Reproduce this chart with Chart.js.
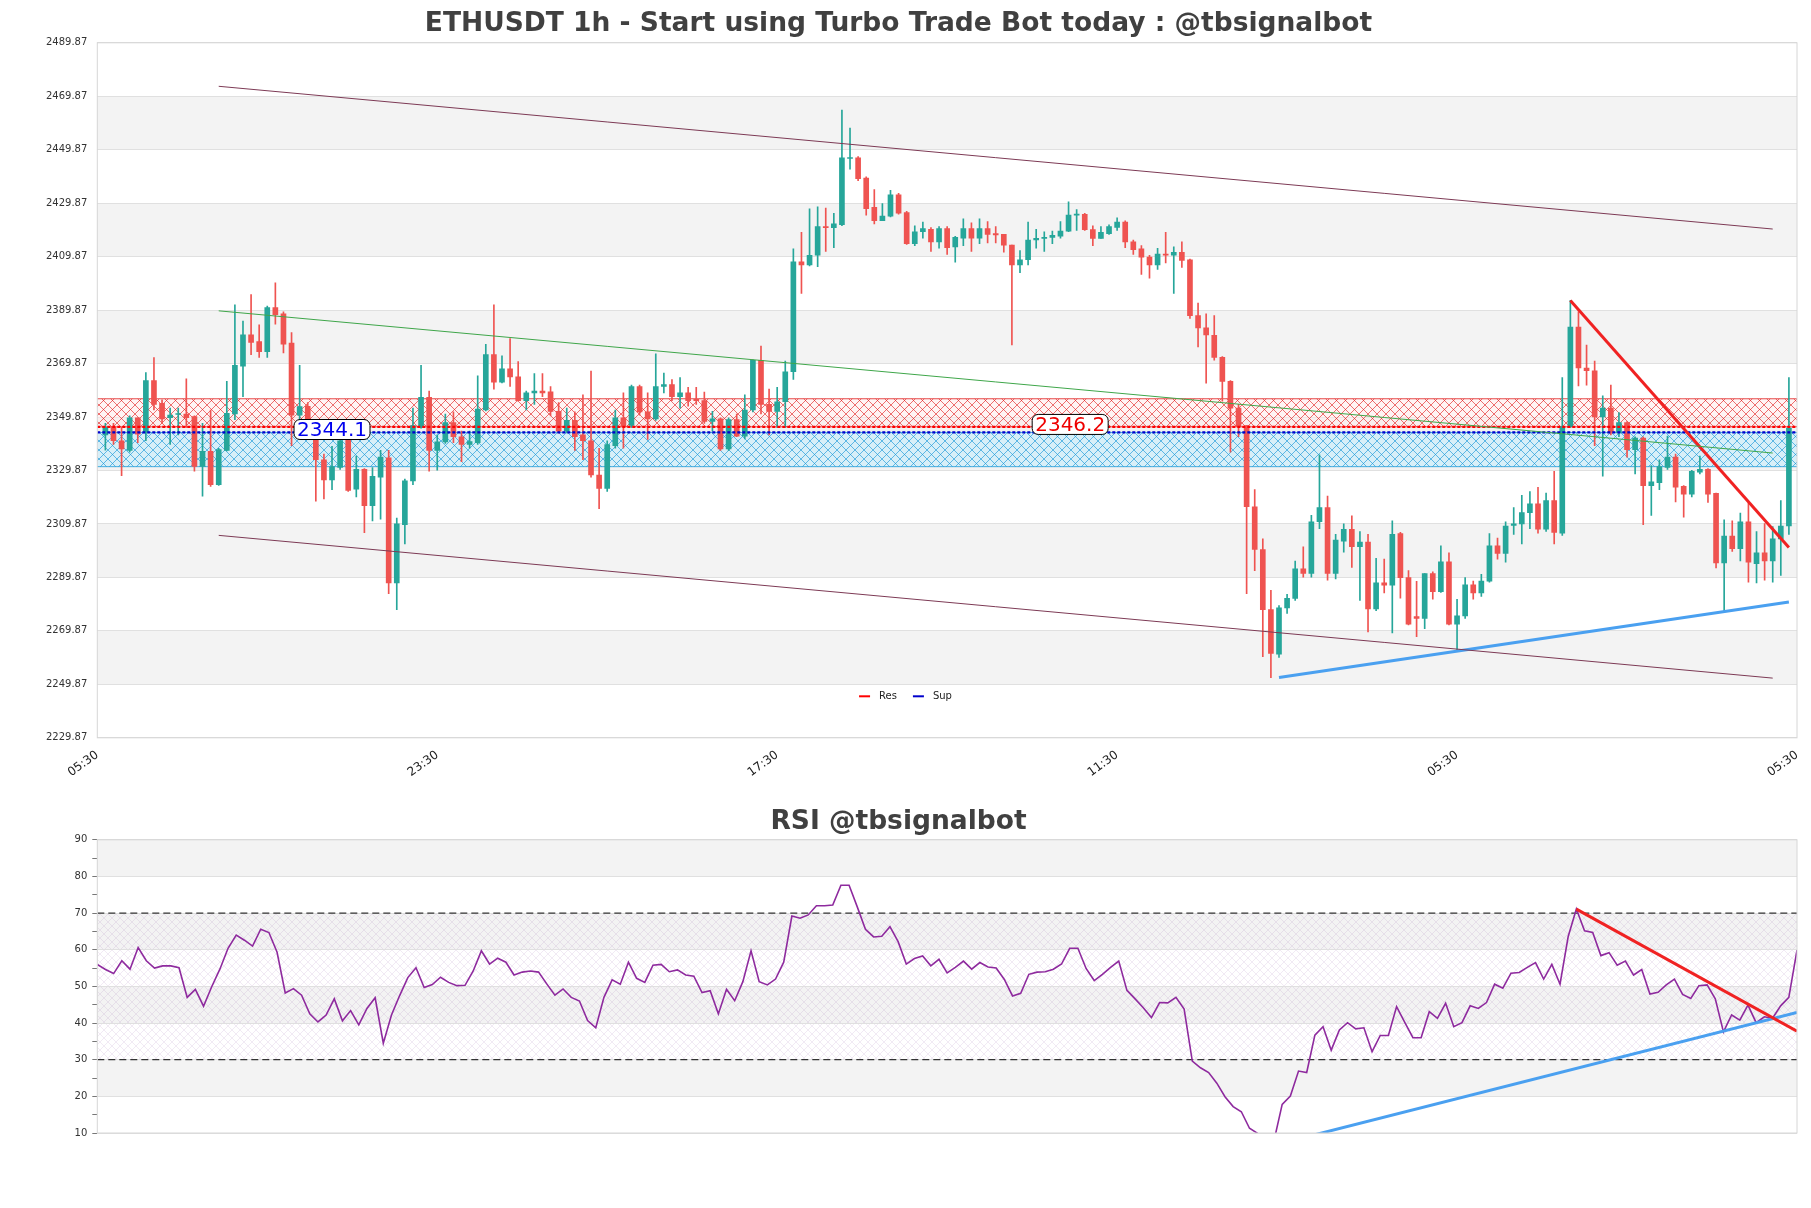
<!DOCTYPE html>
<html>
<head>
<meta charset="utf-8">
<script src="https://cdn.jsdelivr.net/npm/chart.js"></script>
<style>
  html, body { margin: 0; padding: 0; background: #fff; }
  #wrap { position: relative; width: 1811px; height: 1208px; }
  #mainChart { position: absolute; left: 0; top: 0; }
  #rsiChart { position: absolute; left: 0; top: 790px; }
</style>
</head>
<body>
<div id="wrap">
  <canvas id="mainChart" width="1811" height="800"></canvas>
  <canvas id="rsiChart" width="1811" height="418"></canvas>
</div>
<script>
// ETHUSDT 1h candles + RSI panel

// ---- x axis ----
const X_TICK_POS = [-1, 41, 83, 125, 167, 209];
const X_TICK_LABELS = ['05:30', '23:30', '17:30', '11:30', '05:30', '05:30'];

// ---- price axis ----
const Y_TICKS = [2229.87, 2249.87, 2269.87, 2289.87, 2309.87, 2329.87, 2349.87,
                 2369.87, 2389.87, 2409.87, 2429.87, 2449.87, 2469.87, 2489.87];

// ---- candles ----
const OPEN = [
  2343.2, 2346.0, 2341.0, 2337.4, 2349.6, 2343.9, 2363.5, 2355.0, 2349.6, 2350.8,
  2351.0, 2350.0, 2331.4, 2337.0, 2324.6, 2337.4, 2351.0, 2368.9, 2380.6, 2378.1,
  2374.3, 2390.8, 2388.5, 2377.5, 2350.6, 2353.9, 2346.0, 2333.9, 2326.3, 2331.0,
  2341.7, 2322.9, 2330.3, 2316.7, 2327.4, 2334.6, 2287.8, 2309.6, 2326.0, 2346.0,
  2357.2, 2337.4, 2340.6, 2347.8, 2342.5, 2339.6, 2340.3, 2352.5, 2373.2, 2362.9,
  2367.9, 2364.9, 2356.0, 2358.9, 2359.6, 2359.3, 2352.0, 2344.6, 2348.6, 2343.2,
  2341.0, 2328.2, 2323.2, 2339.2, 2349.6, 2346.7, 2361.3, 2351.8, 2349.2, 2361.3,
  2362.0, 2357.5, 2358.9, 2356.5, 2356.0, 2348.2, 2349.2, 2337.9, 2348.9, 2342.7,
  2352.5, 2371.1, 2354.6, 2352.0, 2355.6, 2366.8, 2407.9, 2406.8, 2410.4, 2421.1,
  2420.7, 2421.8, 2446.6, 2446.8, 2439.3, 2428.3, 2423.3, 2425.0, 2433.0, 2426.4,
  2414.7, 2419.2, 2420.1, 2415.4, 2420.4, 2413.5, 2416.8, 2420.4, 2416.8, 2420.4,
  2418.5, 2418.2, 2414.2, 2406.8, 2408.7, 2416.1, 2416.7, 2417.1, 2417.5, 2419.4,
  2425.4, 2425.7, 2420.0, 2416.7, 2418.5, 2420.8, 2422.8, 2415.4, 2412.8, 2409.7,
  2406.8, 2410.8, 2410.4, 2411.5, 2408.7, 2387.8, 2383.2, 2380.4, 2372.2, 2363.2,
  2353.2, 2346.7, 2316.3, 2300.3, 2277.8, 2261.2, 2278.5, 2282.0, 2293.1, 2291.4,
  2310.7, 2316.0, 2291.4, 2303.4, 2307.9, 2301.4, 2303.1, 2278.1, 2287.8, 2287.0,
  2306.3, 2289.8, 2275.2, 2274.5, 2291.3, 2284.5, 2295.7, 2272.4, 2275.5, 2287.1,
  2284.1, 2288.5, 2301.7, 2298.8, 2309.3, 2309.9, 2314.1, 2317.4, 2307.9, 2318.6,
  2306.4, 2346.3, 2383.5, 2368.2, 2367.2, 2349.9, 2353.2, 2343.9, 2347.8, 2337.7,
  2342.0, 2324.2, 2325.3, 2331.0, 2334.9, 2323.9, 2321.0, 2329.2, 2330.3, 2321.3,
  2295.3, 2305.3, 2300.6, 2310.7, 2295.0, 2299.1, 2296.0, 2304.3, 2309.1
];
const HIGH = [
  2347.5, 2347.5, 2346.0, 2350.3, 2349.6, 2366.5, 2372.1, 2356.3, 2353.2, 2353.2,
  2364.2, 2350.3, 2347.5, 2352.5, 2338.2, 2363.2, 2391.8, 2385.8, 2395.7, 2384.4,
  2391.4, 2400.1, 2389.2, 2381.5, 2369.2, 2355.3, 2347.5, 2336.0, 2338.9, 2342.5,
  2342.5, 2335.3, 2330.6, 2331.0, 2337.4, 2337.4, 2312.1, 2326.7, 2353.2, 2369.2,
  2359.6, 2343.2, 2351.0, 2351.8, 2344.6, 2344.6, 2365.3, 2377.1, 2391.8, 2372.8,
  2379.2, 2370.6, 2359.6, 2366.1, 2366.1, 2361.3, 2355.3, 2353.2, 2351.8, 2358.2,
  2367.1, 2338.2, 2341.0, 2352.5, 2358.9, 2361.8, 2361.8, 2358.9, 2373.5, 2366.3,
  2363.9, 2364.6, 2361.0, 2361.0, 2359.2, 2352.0, 2349.6, 2349.6, 2351.0, 2358.2,
  2371.3, 2376.4, 2360.3, 2361.0, 2370.8, 2412.8, 2419.0, 2427.8, 2428.5, 2428.0,
  2426.1, 2464.7, 2458.0, 2447.3, 2439.7, 2435.0, 2429.7, 2434.7, 2433.6, 2426.8,
  2421.4, 2422.8, 2420.7, 2421.1, 2421.1, 2417.5, 2424.0, 2422.5, 2424.0, 2423.0,
  2421.1, 2418.2, 2414.2, 2412.1, 2422.8, 2420.1, 2419.2, 2419.4, 2423.0, 2430.4,
  2427.5, 2426.1, 2421.4, 2421.1, 2421.8, 2424.4, 2423.3, 2416.1, 2414.0, 2410.4,
  2413.0, 2419.0, 2413.5, 2415.4, 2409.0, 2392.5, 2388.5, 2387.8, 2372.5, 2363.5,
  2354.6, 2346.7, 2322.7, 2304.3, 2285.0, 2279.3, 2283.5, 2296.0, 2301.3, 2313.1,
  2335.7, 2320.3, 2306.0, 2309.9, 2312.9, 2307.0, 2306.0, 2297.0, 2296.7, 2311.0,
  2306.7, 2292.4, 2288.4, 2291.3, 2292.0, 2301.7, 2299.1, 2281.7, 2289.8, 2288.5,
  2291.0, 2306.3, 2304.6, 2310.7, 2316.0, 2320.6, 2322.0, 2323.6, 2321.4, 2329.6,
  2364.6, 2393.5, 2389.2, 2376.8, 2370.8, 2357.8, 2361.8, 2351.5, 2348.2, 2342.5,
  2342.5, 2331.7, 2333.9, 2342.7, 2336.0, 2324.2, 2329.9, 2335.3, 2330.6, 2321.4,
  2311.4, 2311.0, 2313.9, 2317.7, 2307.0, 2310.0, 2308.9, 2318.6, 2364.6
];
const LOW = [
  2337.5, 2339.6, 2327.9, 2336.7, 2340.3, 2341.0, 2352.5, 2347.5, 2339.6, 2343.2,
  2346.0, 2329.6, 2320.3, 2323.9, 2324.3, 2337.2, 2348.9, 2357.5, 2373.2, 2372.2,
  2372.2, 2384.6, 2373.9, 2339.2, 2347.5, 2346.0, 2318.4, 2319.2, 2322.7, 2330.3,
  2322.0, 2320.0, 2306.6, 2311.0, 2311.7, 2283.8, 2277.8, 2302.4, 2324.6, 2345.7,
  2329.6, 2330.0, 2340.0, 2340.3, 2333.2, 2338.2, 2339.6, 2352.2, 2360.3, 2362.6,
  2361.3, 2355.8, 2352.5, 2354.6, 2357.5, 2350.3, 2343.9, 2343.9, 2337.4, 2333.9,
  2327.4, 2315.6, 2322.0, 2338.2, 2338.2, 2346.0, 2350.6, 2341.5, 2348.6, 2358.9,
  2356.0, 2353.2, 2353.9, 2354.6, 2347.5, 2344.6, 2337.4, 2337.4, 2342.5, 2341.7,
  2351.8, 2351.0, 2343.2, 2346.0, 2346.0, 2363.9, 2396.1, 2406.4, 2406.1, 2411.8,
  2413.2, 2421.5, 2442.6, 2438.3, 2425.4, 2422.1, 2423.3, 2424.7, 2425.8, 2414.4,
  2414.0, 2416.8, 2411.8, 2413.0, 2410.7, 2407.8, 2414.0, 2411.8, 2414.7, 2415.0,
  2415.0, 2411.5, 2376.8, 2403.9, 2406.8, 2413.0, 2411.8, 2414.7, 2416.8, 2419.2,
  2419.7, 2419.7, 2414.0, 2416.7, 2418.2, 2419.7, 2413.2, 2410.7, 2403.2, 2401.8,
  2405.1, 2407.5, 2396.1, 2405.8, 2386.8, 2376.1, 2362.5, 2371.1, 2355.8, 2336.7,
  2342.5, 2283.8, 2292.4, 2260.2, 2252.4, 2259.9, 2276.4, 2281.3, 2290.0, 2290.0,
  2308.1, 2288.8, 2289.3, 2299.3, 2293.6, 2281.3, 2269.5, 2277.4, 2284.1, 2269.1,
  2282.1, 2272.1, 2267.7, 2270.7, 2281.7, 2284.3, 2272.1, 2262.8, 2274.5, 2281.7,
  2282.8, 2288.1, 2296.7, 2295.6, 2306.0, 2302.4, 2308.1, 2306.4, 2307.1, 2302.4,
  2305.6, 2346.0, 2361.5, 2361.8, 2339.2, 2327.7, 2343.2, 2342.5, 2334.9, 2328.6,
  2309.6, 2313.1, 2322.7, 2330.3, 2318.1, 2312.4, 2320.0, 2328.6, 2317.9, 2293.4,
  2277.4, 2299.6, 2296.0, 2288.1, 2287.8, 2288.8, 2288.1, 2290.6, 2306.0
];
const CLOSE = [
  2346.0, 2341.0, 2337.9, 2349.6, 2343.5, 2363.5, 2354.6, 2349.2, 2350.6, 2351.0,
  2349.6, 2331.4, 2337.0, 2324.6, 2337.7, 2351.3, 2369.2, 2380.6, 2377.8, 2374.3,
  2390.8, 2388.2, 2377.1, 2350.6, 2353.8, 2347.5, 2333.9, 2326.3, 2331.3, 2341.0,
  2322.4, 2330.3, 2316.7, 2327.7, 2334.9, 2287.8, 2309.9, 2326.0, 2346.7, 2357.2,
  2337.4, 2340.6, 2347.8, 2342.5, 2339.6, 2340.7, 2352.8, 2373.2, 2362.9, 2367.9,
  2364.9, 2356.0, 2358.9, 2359.6, 2358.9, 2352.0, 2344.6, 2348.6, 2342.5, 2341.0,
  2328.2, 2323.2, 2339.6, 2349.6, 2346.3, 2361.3, 2351.8, 2349.2, 2361.3, 2362.0,
  2357.5, 2358.9, 2356.0, 2356.0, 2348.2, 2349.2, 2337.9, 2348.9, 2342.7, 2352.5,
  2371.1, 2354.6, 2352.0, 2355.6, 2366.8, 2407.9, 2406.8, 2410.4, 2421.1, 2420.7,
  2422.1, 2446.8, 2446.8, 2439.0, 2427.8, 2423.3, 2425.0, 2433.0, 2426.1, 2414.7,
  2419.2, 2420.4, 2415.4, 2420.4, 2413.2, 2417.1, 2420.4, 2416.8, 2420.4, 2418.2,
  2418.0, 2414.2, 2406.8, 2408.7, 2416.1, 2416.7, 2417.1, 2417.8, 2419.4, 2425.4,
  2425.7, 2420.0, 2416.7, 2419.0, 2421.1, 2422.8, 2415.4, 2412.5, 2409.7, 2406.8,
  2410.8, 2410.4, 2411.5, 2408.5, 2387.8, 2383.2, 2380.6, 2372.2, 2363.2, 2353.2,
  2346.3, 2316.3, 2300.3, 2277.8, 2261.4, 2278.5, 2282.0, 2293.1, 2291.4, 2310.7,
  2316.0, 2291.4, 2303.8, 2307.9, 2301.4, 2303.1, 2278.1, 2287.8, 2287.0, 2306.0,
  2289.8, 2272.4, 2274.5, 2291.3, 2284.5, 2295.7, 2272.4, 2275.5, 2287.1, 2284.1,
  2288.5, 2301.7, 2298.8, 2309.1, 2309.9, 2314.1, 2317.4, 2307.9, 2318.6, 2306.7,
  2346.3, 2383.5, 2368.2, 2367.2, 2349.9, 2353.2, 2343.9, 2347.8, 2337.7, 2342.0,
  2324.2, 2325.6, 2331.3, 2334.9, 2323.6, 2321.0, 2329.6, 2330.3, 2321.0, 2295.3,
  2305.3, 2300.6, 2310.7, 2295.6, 2299.1, 2296.0, 2304.3, 2309.1, 2345.7
];

// ---- support / resistance ----
const RES_LEVEL = 2346.2;
const SUP_LEVEL = 2344.1;
const RES_ZONE = [2346.2, 2356.7];
const SUP_ZONE = [2331.3, 2344.1];

// ---- trend lines [index, price] ----
const CHANNEL_UPPER = [[14, 2473.6], [206, 2420.2]];
const CHANNEL_LOWER = [[14, 2305.6], [206, 2252.2]];
const CHANNEL_MID = [[14, 2389.6], [206, 2336.4]];
const TREND_DOWN = [[181, 2393.5], [208, 2301.1]];
const TREND_UP = [[145, 2252.4], [208, 2280.7]];

// ---- RSI ----
const RSI = [
  56.0, 54.6, 53.5, 57.0, 54.7, 60.6, 57.0, 55.0, 55.6, 55.6,
  55.1, 47.0, 49.2, 44.6, 49.9, 54.7, 60.4, 64.0, 62.6, 61.0,
  65.6, 64.7, 59.3, 48.2, 49.4, 47.6, 42.5, 40.3, 42.2, 46.6,
  40.6, 43.4, 39.5, 44.0, 46.9, 34.5, 42.2, 47.5, 52.4, 55.1,
  49.7, 50.5, 52.5, 51.1, 50.2, 50.3, 54.2, 59.7, 56.1, 57.7,
  56.6, 53.1, 53.9, 54.2, 53.9, 50.7, 47.6, 49.3, 47.0, 46.0,
  40.7, 38.7, 47.0, 51.8, 50.6, 56.6, 52.2, 51.1, 55.8, 56.0,
  54.0, 54.5, 53.1, 52.8, 48.3, 48.8, 42.5, 49.2, 46.1, 51.3,
  59.7, 51.3, 50.4, 52.0, 56.6, 69.2, 68.6, 69.5, 72.0, 72.0,
  72.2, 77.6, 77.6, 71.7, 65.6, 63.5, 63.7, 66.3, 62.2, 56.1,
  57.6, 58.3, 55.6, 57.4, 53.7, 55.2, 56.9, 54.7, 56.5, 55.3,
  55.0, 51.9, 47.4, 48.1, 53.3, 53.9, 54.0, 54.7, 56.1, 60.4,
  60.4, 54.9, 51.6, 53.3, 55.2, 56.9, 48.9, 46.6, 44.2, 41.5,
  45.6, 45.5, 47.0, 43.8, 29.6, 27.8, 26.5, 23.6, 19.9, 17.2,
  15.8, 11.3, 9.9, 8.6, 7.9, 17.8, 20.1, 26.9, 26.5, 36.7,
  39.0, 32.6, 38.1, 40.1, 38.4, 38.7, 32.2, 36.6, 36.6, 44.5,
  40.2, 36.0, 36.0, 43.1, 41.3, 45.4, 39.0, 40.1, 44.7, 44.0,
  45.6, 50.6, 49.5, 53.6, 53.8, 55.2, 56.5, 52.0, 56.0, 50.6,
  63.6, 71.1, 65.2, 64.7, 58.4, 59.2, 55.8, 56.9, 53.1, 54.6,
  47.9, 48.4, 50.4, 52.0, 47.8, 46.7, 50.2, 50.4, 46.6, 37.6,
  42.2, 40.8, 44.9, 40.1, 41.7, 41.3, 44.7, 47.0, 59.9
];
const RSI_TICKS = [10, 20, 30, 40, 50, 60, 70, 80, 90];
const RSI_LEVELS = [70, 30];
const RSI_TREND_DOWN = [[181, 71.1], [208, 37.8]];
const RSI_TREND_UP = [[144, 6.7], [208, 42.9]];

// ---- colours ----
const UP_COLOR = '#26a69a';
const DOWN_COLOR = '#ef5350';
const BAND_COLOR = '#f3f3f3';
const GRID_COLOR = '#e0e0e0';
const FRAME_COLOR = '#d6d6d6';
const TITLE_COLOR = '#404040';

Chart.defaults.font.family = "'DejaVu Sans', sans-serif";
Chart.defaults.color = '#333';

// small crosshatch tile like matplotlib's 'xx'
function crossHatch(bg, fg, size, lw) {
    const c = document.createElement('canvas');
    c.width = size; c.height = size;
    const g = c.getContext('2d');
    if (bg) { g.fillStyle = bg; g.fillRect(0, 0, size, size); }
    g.strokeStyle = fg;
    g.lineWidth = lw;
    g.beginPath();
    g.moveTo(-1, -1); g.lineTo(size + 1, size + 1);
    g.moveTo(size + 1, -1); g.lineTo(-1, size + 1);
    g.stroke();
    return g.createPattern(c, 'repeat');
}

const toXY = pts => pts.map(p => ({ x: p[0], y: p[1] }));
const idx = OPEN.map((_, i) => i);
const candleColors = idx.map(i => CLOSE[i] >= OPEN[i] ? UP_COLOR : DOWN_COLOR);

function lineSet(label, pts, color, width, extra) {
    return Object.assign({
        type: 'line', label: label, data: toXY(pts),
        borderColor: color, borderWidth: width, pointRadius: 0,
        fill: false, tension: 0, order: 1
    }, extra || {});
}

// bands, zones, labels, legend and frame of the price panel
const priceDecor = {
    id: 'priceDecor',
    beforeDraw(chart) {
        const { ctx, chartArea: a, scales: { y } } = chart;
        ctx.save();
        ctx.fillStyle = BAND_COLOR;
        for (let k = 1; k < Y_TICKS.length - 1; k += 2) {
            const top = y.getPixelForValue(Y_TICKS[k + 1]);
            const bot = y.getPixelForValue(Y_TICKS[k]);
            ctx.fillRect(a.left, top, a.right - a.left, bot - top);
        }
        ctx.restore();
    },
    beforeDatasetsDraw(chart) {
        const { ctx, chartArea: a, scales: { y } } = chart;
        const zones = [
            { z: RES_ZONE, pat: crossHatch('rgba(255,235,235,0.55)', 'rgba(225,20,20,0.85)', 9, 0.7), edge: '#e02020' },
            { z: SUP_ZONE, pat: crossHatch('rgba(205,238,250,0.75)', 'rgba(20,150,215,0.9)', 9, 0.7), edge: '#1a9ad8' }
        ];
        ctx.save();
        zones.forEach(o => {
            const top = y.getPixelForValue(o.z[1]);
            const bot = y.getPixelForValue(o.z[0]);
            ctx.fillStyle = o.pat;
            ctx.fillRect(a.left, top, a.right - a.left, bot - top);
            ctx.strokeStyle = o.edge;
            ctx.lineWidth = 0.8;
            ctx.beginPath();
            ctx.moveTo(a.left, top); ctx.lineTo(a.right, top);
            ctx.moveTo(a.left, bot); ctx.lineTo(a.right, bot);
            ctx.stroke();
        });
        ctx.restore();
    },
    afterDatasetsDraw(chart) {
        const { ctx, scales: { x, y } } = chart;
        const tags = [
            { t: SUP_LEVEL.toFixed(1), at: 28, v: SUP_LEVEL + 1.1, c: '#0000ee' },
            { t: RES_LEVEL.toFixed(1), at: 119.2, v: RES_LEVEL + 0.9, c: '#ee0000' }
        ];
        ctx.save();
        ctx.font = '20px "DejaVu Sans"';
        ctx.textAlign = 'center';
        ctx.textBaseline = 'middle';
        tags.forEach(o => {
            const cx = x.getPixelForValue(o.at);
            const cy = y.getPixelForValue(o.v);
            const w = ctx.measureText(o.t).width + 6;
            const h = 20;
            ctx.beginPath();
            ctx.roundRect(cx - w / 2, cy - h / 2, w, h, 6);
            ctx.fillStyle = '#fff';
            ctx.fill();
            ctx.strokeStyle = '#000';
            ctx.lineWidth = 1;
            ctx.stroke();
            ctx.fillStyle = o.c;
            ctx.fillText(o.t, cx, cy + 1);
        });
        ctx.restore();
    },
    afterDraw(chart) {
        const { ctx, chartArea: a } = chart;
        ctx.save();
        ctx.strokeStyle = FRAME_COLOR;
        ctx.lineWidth = 1;
        ctx.strokeRect(a.left, a.top, a.right - a.left, a.bottom - a.top);
        // legend, centred on the figure
        const items = [{ t: 'Res', c: '#ff0000' }, { t: 'Sup', c: '#0000cc' }];
        ctx.font = '10px "DejaVu Sans"';
        const handle = 11, gap = 9, sep = 16;
        let total = 0;
        items.forEach((o, i) => { total += handle + gap + ctx.measureText(o.t).width + (i ? sep : 0); });
        let px = chart.width / 2 - total / 2;
        const py = a.bottom - 41.5;
        ctx.textBaseline = 'middle';
        items.forEach(o => {
            ctx.strokeStyle = o.c;
            ctx.lineWidth = 2;
            ctx.beginPath();
            ctx.moveTo(px, py); ctx.lineTo(px + handle, py);
            ctx.stroke();
            px += handle + gap;
            ctx.fillStyle = '#222';
            ctx.fillText(o.t, px, py);
            px += ctx.measureText(o.t).width + sep;
        });
        ctx.restore();
    }
};

new Chart(document.getElementById('mainChart'), {
    type: 'bar',
    data: {
        datasets: [
            lineSet('Res', [[-1, RES_LEVEL], [209, RES_LEVEL]], '#ff0000', 2.2, { borderDash: [3, 2], order: 3 }),
            lineSet('Sup', [[-1, SUP_LEVEL], [209, SUP_LEVEL]], '#0000cc', 2.2, { borderDash: [3, 2], order: 3 }),
            lineSet('upper', CHANNEL_UPPER, '#7d3a55', 1),
            lineSet('lower', CHANNEL_LOWER, '#7d3a55', 1),
            lineSet('mid', CHANNEL_MID, '#3fa64a', 1),
            lineSet('down', TREND_DOWN, '#f02222', 3),
            lineSet('up', TREND_UP, '#4aa0f0', 3),
            {
                label: 'wick',
                data: idx.map(i => ({ x: i, y: [LOW[i], HIGH[i]] })),
                backgroundColor: candleColors,
                barThickness: 1,
                grouped: false,
                order: 6
            },
            {
                label: 'body',
                data: idx.map(i => ({ x: i, y: [OPEN[i], CLOSE[i]] })),
                backgroundColor: candleColors,
                barThickness: 5,
                minBarLength: 1,
                grouped: false,
                order: 5
            }
        ]
    },
    options: {
        responsive: false,
        animation: false,
        events: [],
        layout: { padding: { left: 0, right: 14, top: 0, bottom: 0 } },
        plugins: {
            legend: { display: false },
            tooltip: { enabled: false },
            title: {
                display: true,
                text: 'ETHUSDT 1h - Start using Turbo Trade Bot today : @tbsignalbot',
                color: TITLE_COLOR,
                font: { size: 26.5, weight: 'bold' },
                padding: { top: 8, bottom: 3 }
            }
        },
        scales: {
            x: {
                type: 'linear',
                min: -1,
                max: 209,
                offset: false,
                grid: { display: false },
                border: { display: false },
                afterBuildTicks: s => { s.ticks = X_TICK_POS.map(v => ({ value: v })); },
                afterFit: s => { s.height = 62.2; },
                ticks: {
                    autoSkip: false,
                    minRotation: 36,
                    maxRotation: 36,
                    padding: 2,
                    color: '#222',
                    font: { size: 12 },
                    callback: (v, i) => X_TICK_LABELS[i]
                }
            },
            y: {
                min: Y_TICKS[0],
                max: Y_TICKS[Y_TICKS.length - 1],
                afterBuildTicks: s => { s.ticks = Y_TICKS.map(v => ({ value: v })); },
                afterFit: s => { s.width = 97.3; },
                grid: { color: GRID_COLOR, drawTicks: false },
                border: { display: false },
                ticks: {
                    padding: 10,
                    color: '#333',
                    font: { size: 10 },
                    callback: v => Number(v).toFixed(2)
                }
            }
        }
    },
    plugins: [priceDecor]
});

// bands, hatch and frame of the RSI panel
const rsiDecor = {
    id: 'rsiDecor',
    beforeDraw(chart) {
        const { ctx, chartArea: a, scales: { y } } = chart;
        ctx.save();
        ctx.fillStyle = BAND_COLOR;
        RSI_TICKS.forEach(t => {
            if (t < 90 && (t / 10) % 2 === 0) {
                const top = y.getPixelForValue(t + 10);
                const bot = y.getPixelForValue(t);
                ctx.fillRect(a.left, top, a.right - a.left, bot - top);
            }
        });
        const top = y.getPixelForValue(RSI_LEVELS[0]);
        const bot = y.getPixelForValue(RSI_LEVELS[1]);
        ctx.fillStyle = crossHatch(null, 'rgba(150,90,170,0.22)', 8, 0.6);
        ctx.fillRect(a.left, top, a.right - a.left, bot - top);
        ctx.restore();
    },
    afterDraw(chart) {
        const { ctx, chartArea: a } = chart;
        ctx.save();
        ctx.strokeStyle = FRAME_COLOR;
        ctx.lineWidth = 1;
        ctx.strokeRect(a.left, a.top, a.right - a.left, a.bottom - a.top);
        ctx.restore();
    }
};

new Chart(document.getElementById('rsiChart'), {
    type: 'line',
    data: {
        datasets: [
            lineSet('RSI', RSI.map((v, i) => [i, v]), '#8e2a9e', 1.6, { order: 2 }),
            ...RSI_LEVELS.map(l => lineSet('lvl' + l, [[0, l], [208, l]], '#333', 1.2, { borderDash: [7, 4], order: 3 })),
            lineSet('down', RSI_TREND_DOWN, '#f02222', 3),
            lineSet('up', RSI_TREND_UP, '#4aa0f0', 3)
        ]
    },
    options: {
        responsive: false,
        animation: false,
        events: [],
        layout: { padding: { left: 0, right: 14, top: 0, bottom: 75 } },
        plugins: {
            legend: { display: false },
            tooltip: { enabled: false },
            title: {
                display: true,
                text: 'RSI @tbsignalbot',
                color: TITLE_COLOR,
                font: { size: 26.5, weight: 'bold' },
                padding: { top: 16, bottom: 2 }
            }
        },
        scales: {
            x: { type: 'linear', min: 0, max: 208, display: false },
            y: {
                min: 10,
                max: 90,
                afterFit: s => { s.width = 97.3; },
                grid: {
                    color: c => (c.tick && c.tick.value % 10 === 0) ? GRID_COLOR : 'rgba(0,0,0,0)',
                    tickColor: '#777',
                    tickLength: 5
                },
                border: { display: false },
                ticks: {
                    stepSize: 5,
                    padding: 5,
                    color: '#333',
                    font: { size: 10 },
                    callback: v => RSI_TICKS.includes(v) ? String(v) : ''
                }
            }
        }
    },
    plugins: [rsiDecor]
});
</script>
</body>
</html>
